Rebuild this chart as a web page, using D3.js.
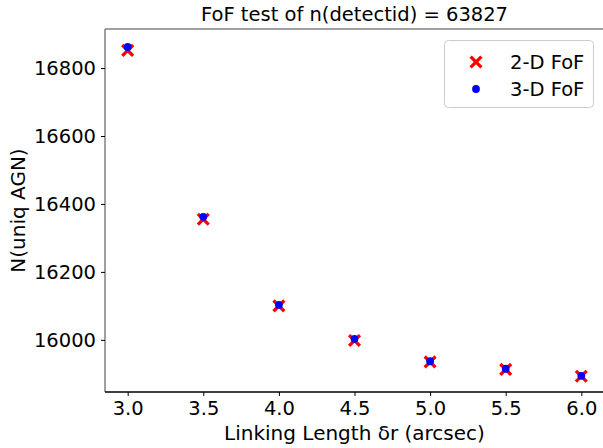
<!DOCTYPE html>
<html><head><meta charset="utf-8">
<script src="https://cdn.jsdelivr.net/npm/d3@7"></script>
<style>body{margin:0;background:#fff}svg{display:block}text{font-family:"DejaVu Sans",sans-serif;fill:#000}</style>
</head><body>
<script>
const linkingLength = [3.0, 3.5, 4.0, 4.5, 5.0, 5.5, 6.0];
const fof2D = [16852, 16355, 16100, 15998, 15935, 15913, 15893];
const fof3D = [16862, 16362, 16103, 16003, 15937, 15915, 15894];
const xTicks = [3.0, 3.5, 4.0, 4.5, 5.0, 5.5, 6.0];
const yTicks = [16000, 16200, 16400, 16600, 16800];
const title = "FoF test of n(detectid) = 63827";
const xLabel = "Linking Length δr (arcsec)";
const yLabel = "N(uniq AGN)";
const seriesNames = ["2-D FoF", "3-D FoF"];

const W = 603, H = 448;
const L = 105, T = 29, R = 604, B = 392;
const fs = 19.5;
const svg = d3.select("body").append("svg").attr("width", W).attr("height", H);
const x = d3.scaleLinear().domain([2.85, 6.15]).range([L, R]);
const y = d3.scaleLinear().domain([15846.5, 16915]).range([B, T]);

// spines
svg.append("line").attr("x1",L).attr("x2",R).attr("y1",T).attr("y2",T).attr("stroke","#808080").attr("stroke-width",1.5);
svg.append("line").attr("x1",L).attr("x2",L).attr("y1",T).attr("y2",B).attr("stroke","#808080").attr("stroke-width",1.5);
svg.append("line").attr("x1",R).attr("x2",R).attr("y1",T).attr("y2",B).attr("stroke","#808080").attr("stroke-width",1.5);

const xAxis = svg.append("g").attr("transform",`translate(0,${B})`)
  .call(d3.axisBottom(x).tickValues(xTicks).tickFormat(d3.format(".1f")).tickSize(4).tickPadding(5));
const yAxis = svg.append("g").attr("transform",`translate(${L},0)`)
  .call(d3.axisLeft(y).tickValues(yTicks).tickFormat(d3.format("d")).tickSize(4).tickPadding(5));
[xAxis, yAxis].forEach(g => {
  g.selectAll("text").style("font-size", fs+"px").attr("fill","#000");
  g.selectAll(".tick line").attr("stroke","#000").attr("stroke-width",1);
});
xAxis.select(".domain").attr("stroke","#000").attr("stroke-width",1.5).attr("d",`M${L},0H${R}`);
yAxis.select(".domain").remove();

// data
const cross = (g, cx, cy, s) => {
  g.append("path").attr("d",`M${cx-s},${cy-s}L${cx+s},${cy+s}M${cx-s},${cy+s}L${cx+s},${cy-s}`)
   .attr("stroke","#ff0000").attr("stroke-width",3.3).attr("fill","none");
};
const pts = svg.append("g");
linkingLength.forEach((v,i) => cross(pts, x(v), y(fof2D[i]), 5.4));
pts.selectAll("circle").data(linkingLength).enter().append("circle")
  .attr("cx", d => x(d)).attr("cy", (d,i) => y(fof3D[i])).attr("r", 3.9).attr("fill","#0000ff");

// title & labels
svg.append("text").attr("x",(L+R)/2).attr("y",21).attr("text-anchor","middle").style("font-size",fs+"px").text(title);
svg.append("text").attr("x",(L+R)/2).attr("y",440).attr("text-anchor","middle").style("font-size","20px").text(xLabel);
svg.append("text").attr("transform",`translate(25,${(T+B)/2}) rotate(-90)`).attr("text-anchor","middle").style("font-size","20px").text(yLabel);

// legend
const lg = svg.append("g");
lg.append("rect").attr("x",444.5).attr("y",40.5).attr("width",149).attr("height",67).attr("rx",4)
  .attr("fill","#fff").attr("fill-opacity",0.8).attr("stroke","#cccccc").attr("stroke-width",1);
cross(lg, 476, 62, 5.4);
lg.append("circle").attr("cx",476).attr("cy",89).attr("r",3.9).attr("fill","#0000ff");
lg.append("text").attr("x",510).attr("y",69).style("font-size",fs+"px").text(seriesNames[0]);
lg.append("text").attr("x",510).attr("y",96).style("font-size",fs+"px").text(seriesNames[1]);
</script>
</body></html>
